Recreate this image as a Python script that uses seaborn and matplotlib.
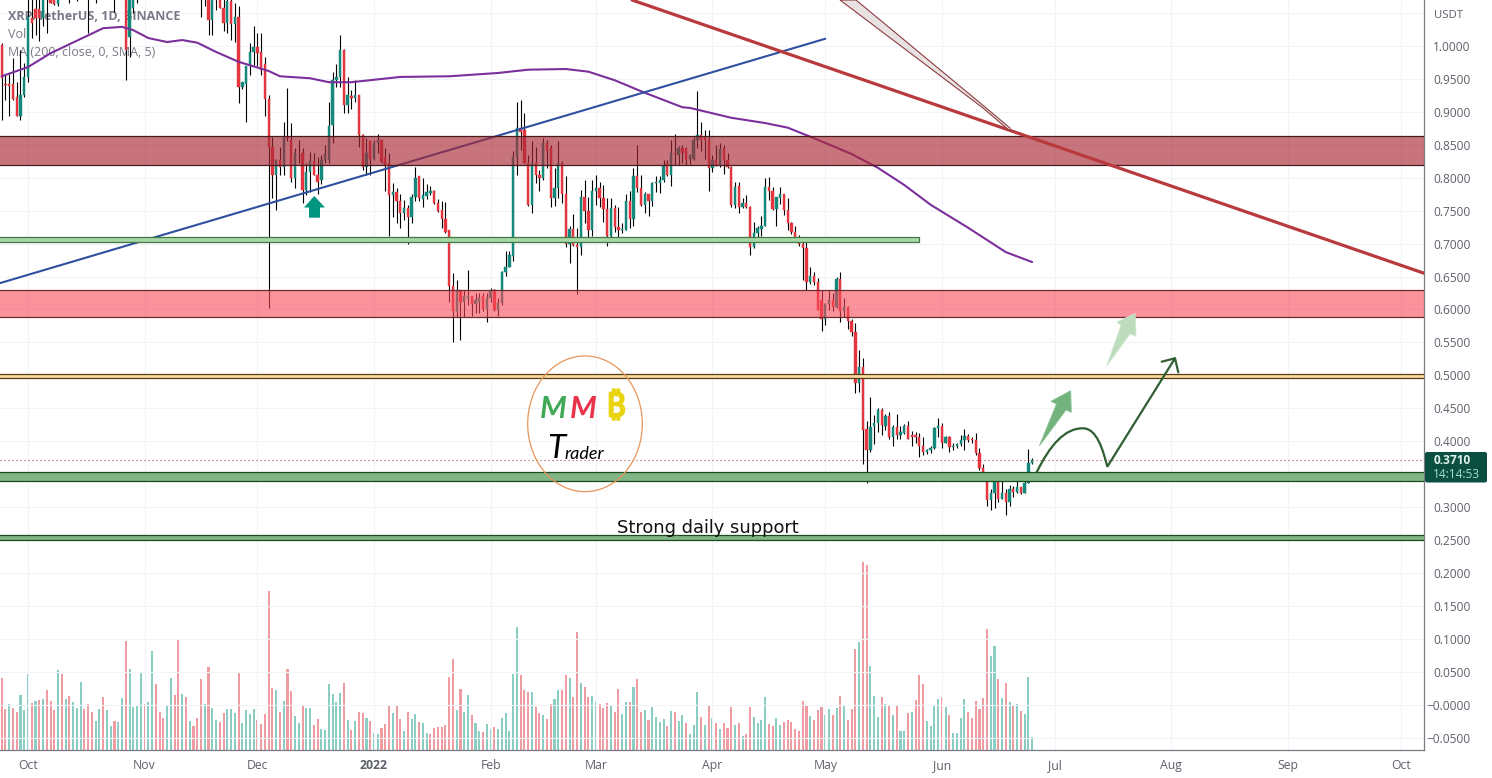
import matplotlib
matplotlib.use("Agg")
import numpy as np
import pandas as pd
import seaborn as sns
import matplotlib.pyplot as plt
import matplotlib.dates as mdates
import matplotlib.patheffects as pe
from matplotlib.patches import Polygon, Rectangle, Ellipse, PathPatch, FancyBboxPatch
from matplotlib.path import Path
from matplotlib.transforms import Affine2D

START = "2021-09-24"
open_ = [
1.001,.943,.943,.943,.923,.893,.926,.953,1.042,1.056,
1.056,1.042,1.11,1.10,1.09,1.063,1.09,1.12,1.10,1.13,
1.15,1.12,1.17,1.15,1.12,1.08,1.12,1.10,1.14,1.12,
1.12,1.10,1.13,1.11,1.014,1.057,1.12,1.10,1.14,1.12,
1.16,1.22,1.19,1.17,1.15,1.18,1.22,1.20,1.14,1.17,
1.15,1.17,1.15,1.13,1.10,1.10,1.04,1.12,1.10,1.058,
1.035,1.068,1.033,1.044,.938,.943,.969,.991,.998,.991,
.973,.920,.847,.804,.827,.817,.862,.857,.799,.838,
.837,.781,.809,.826,.804,.797,.827,.827,.880,.948,
.953,.994,.910,.924,.921,.926,.865,.817,.855,.829,
.852,.857,.832,.822,.774,.779,.764,.746,.754,.740,
.770,.802,.767,.772,.777,.780,.761,.751,.738,.720,
.636,.597,.629,.612,.617,.620,.609,.612,.620,.600,
.618,.630,.599,.610,.657,.665,.681,.831,.875,.873,
.823,.759,.822,.804,.799,.852,.845,.769,.784,.823,
.776,.700,.722,.698,.695,.770,.750,.721,.780,.785,
.769,.752,.711,.754,.725,.720,.721,.765,.737,.803,
.785,.759,.775,.765,.792,.792,.796,.822,.804,.837,
.835,.845,.845,.828,.829,.857,.865,.862,.858,.814,
.827,.819,.845,.827,.816,.759,.787,.755,.762,.756,
.695,.716,.722,.727,.786,.780,.752,.769,.775,.751,
.732,.718,.706,.699,.693,.642,.651,.642,.614,.585,
.608,.614,.604,.646,.598,.604,.583,.566,.488,.513,
.418,.386,.423,.427,.448,.423,.438,.406,.421,.409,
.413,.423,.409,.409,.407,.392,.383,.386,.389,.420,
.423,.398,.406,.391,.393,.396,.402,.408,.404,.402,
.382,.360,.344,.311,.322,.342,.313,.321,.308,.327,
.323,.330,.322,.337,.367]
high = [
1.004,.956,.957,.981,.946,.994,.974,1.10,1.10,1.11,
1.11,1.12,1.14,1.13,1.12,1.12,1.13,1.15,1.15,1.17,
1.19,1.20,1.20,1.18,1.14,1.14,1.16,1.16,1.17,1.15,
1.16,1.15,1.17,1.17,1.11,1.13,1.15,1.16,1.18,1.19,
1.24,1.25,1.22,1.20,1.20,1.24,1.25,1.24,1.19,1.20,
1.19,1.19,1.18,1.16,1.14,1.13,1.12,1.16,1.14,1.08,
1.08,1.09,1.065,1.06,.946,.969,1.004,1.030,1.019,1.019,
.984,.926,.862,.829,.847,.885,.936,.883,.845,.857,
.845,.822,.839,.837,.832,.834,.850,.915,.961,.973,
1.017,.996,.953,.933,.948,.926,.866,.860,.857,.857,
.867,.858,.845,.837,.792,.784,.776,.766,.759,.776,
.816,.803,.799,.790,.787,.781,.767,.764,.763,.721,
.655,.645,.630,.630,.660,.620,.625,.625,.625,.625,
.632,.631,.617,.659,.688,.689,.840,.915,.918,.898,
.835,.855,.847,.812,.861,.857,.850,.814,.856,.826,
.802,.726,.745,.723,.781,.797,.771,.797,.804,.794,
.789,.769,.769,.759,.756,.731,.776,.780,.814,.850,
.804,.779,.776,.794,.802,.802,.827,.827,.857,.867,
.848,.850,.847,.836,.862,.931,.885,.873,.873,.835,
.850,.852,.850,.837,.818,.794,.794,.769,.774,.757,
.733,.726,.742,.799,.801,.786,.771,.786,.776,.769,
.733,.727,.713,.703,.706,.664,.657,.647,.630,.610,
.630,.625,.650,.657,.617,.605,.585,.580,.538,.526,
.430,.467,.440,.450,.450,.442,.445,.425,.441,.423,
.426,.430,.415,.414,.412,.406,.388,.392,.421,.435,
.427,.408,.408,.397,.398,.409,.418,.411,.407,.413,
.389,.366,.351,.328,.349,.349,.340,.328,.334,.332,
.339,.331,.341,.388,.374]
low = [
.888,.918,.893,.918,.893,.888,.923,.946,1.012,1.017,
1.007,1.03,1.019,1.066,1.062,1.06,1.08,1.09,1.066,1.10,
1.068,1.09,1.11,1.019,1.072,1.065,1.08,1.08,1.10,1.09,
1.052,1.08,1.09,.948,.984,1.05,1.065,1.09,1.11,1.10,
1.14,1.17,1.16,1.14,1.13,1.16,1.18,1.12,1.12,1.14,
1.14,1.14,1.12,1.044,1.06,1.017,1.017,1.055,1.057,1.022,
1.019,1.009,1.006,.913,.934,.884,.956,.971,.969,.956,
.893,.602,.769,.751,.804,.804,.855,.794,.784,.822,
.761,.774,.779,.804,.776,.791,.822,.822,.852,.938,
.938,.898,.898,.905,.915,.847,.812,.804,.804,.827,
.837,.823,.780,.712,.741,.731,.723,.736,.700,.732,
.764,.764,.755,.767,.774,.760,.748,.723,.716,.612,
.550,.589,.554,.588,.607,.590,.594,.594,.597,.581,
.612,.597,.590,.607,.651,.664,.673,.804,.842,.822,
.757,.747,.792,.780,.797,.814,.755,.757,.769,.761,
.695,.670,.696,.623,.683,.731,.708,.711,.759,.756,
.733,.696,.706,.718,.703,.716,.720,.723,.726,.779,
.757,.746,.742,.757,.779,.777,.793,.802,.787,.819,
.819,.822,.819,.821,.827,.845,.840,.829,.780,.808,
.818,.816,.805,.814,.756,.754,.747,.754,.754,.683,
.693,.703,.711,.726,.766,.751,.727,.760,.743,.721,
.715,.703,.696,.645,.630,.639,.637,.599,.568,.576,
.599,.597,.602,.581,.589,.571,.559,.473,.474,.366,
.337,.383,.396,.414,.409,.417,.404,.392,.403,.404,
.411,.403,.392,.398,.376,.379,.381,.382,.388,.407,
.389,.397,.384,.386,.389,.393,.386,.399,.397,.379,
.357,.340,.302,.295,.298,.308,.312,.288,.302,.316,
.321,.320,.321,.336,.365]
close = [
.951,.941,.939,.920,.893,.926,.953,1.044,1.035,1.042,
1.042,1.09,1.08,1.066,1.064,1.09,1.12,1.10,1.13,1.15,
1.12,1.17,1.15,1.09,1.10,1.12,1.10,1.14,1.12,1.10,
1.10,1.13,1.11,.994,1.09,1.10,1.09,1.14,1.12,1.16,
1.22,1.19,1.17,1.15,1.18,1.22,1.20,1.14,1.17,1.15,
1.17,1.15,1.13,1.09,1.08,1.040,1.09,1.07,1.058,1.035,
1.068,1.033,1.044,.938,.946,.969,.991,.998,.990,.964,
.920,.847,.804,.827,.817,.862,.860,.799,.838,.837,
.781,.809,.826,.804,.794,.827,.836,.878,.948,.953,
.994,.910,.926,.921,.926,.865,.817,.838,.829,.852,
.858,.824,.818,.774,.779,.764,.746,.754,.740,.770,
.799,.769,.774,.779,.780,.761,.750,.737,.718,.636,
.597,.630,.612,.620,.620,.609,.614,.617,.600,.618,
.628,.599,.610,.657,.665,.683,.831,.875,.870,.823,
.759,.823,.804,.799,.852,.840,.769,.784,.823,.776,
.700,.722,.698,.695,.771,.750,.721,.780,.784,.769,
.752,.711,.754,.725,.721,.722,.765,.737,.803,.785,
.759,.775,.765,.792,.794,.797,.818,.804,.837,.836,
.845,.837,.827,.835,.858,.865,.857,.857,.814,.827,
.819,.843,.827,.816,.759,.786,.755,.762,.755,.695,
.716,.723,.727,.786,.780,.752,.770,.775,.751,.732,
.718,.706,.700,.693,.642,.651,.642,.599,.585,.608,
.614,.604,.646,.598,.603,.583,.566,.488,.513,.417,
.386,.422,.427,.448,.424,.438,.406,.422,.409,.414,
.423,.404,.406,.406,.392,.383,.386,.389,.420,.423,
.398,.406,.391,.393,.396,.402,.408,.402,.402,.382,
.360,.342,.311,.322,.342,.313,.321,.308,.327,.323,
.330,.322,.337,.367,.371]
volume = [
72,41,46,42,38,55,40,76,47,49, 50,51,60,49,40,80,76,51,54,48,
42,68,41,46,38,29,41,53,40,24, 29,28,52,109,81,43,44,78,46,48,
99,66,38,32,45,72,55,110,56,53, 29,24,32,71,46,83,42,30,28,37,
41,41,37,78,27,40,36,41,30,26, 36,159,62,60,38,49,81,59,34,27,
45,42,42,25,31,21,20,66,56,48, 57,67,30,20,29,38,37,32,29,17,
16,22,26,44,37,45,31,19,38,31, 36,28,27,17,16,22,23,23,25,73,
91,40,61,38,55,35,27,19,18,26, 21,23,21,32,37,19,76,123,
75,60,58,58,43,37,35,31,46,51, 60,60,75,72,53,118,67,63,53,54,
48,46,42,47,44,38,61,36,48,48, 63,71,38,40,30,43,33,28,31,24,
39,38,29,35,27,16,25,58,33,25, 45,32,27,21,27,22,43,25,27,14,
16,43,33,27,30,53,26,24,32,25, 28,30,28,21,19,49,44,34,30,40,
43,35,41,35,42,54,44,30,41,101, 108,188,185,84,54,33,53,46,45,35,
44,19,19,37,38,50,75,66,29,24, 45,51,53,43,35,17,17,32,51,38,
32,49,41,52,121,94,104,71,52,67, 48,44,46,39,36,73,13]
volume_dir = ("RRGRRGGGRG" "RGRRRGRGRG" "GGRRRGGRGG" "RGGRGGGGRG" "GRRRGGRRGR"
              "GRRRGRGGRR" "GGGRGGGGRR" "RRRGRGRRGG" "RGGRRGGGGG" "GRGRGRRGRG"
              "GRRRGRRGRG" "GRGGRRRRRR" "RGRGGRGGRG" "GRGGGGGG"
              "RRRGRRGRRG" "GRRGRRGRRG" "GRRRGRRGGR" "GRRGRGGGGR" "GRGGRGGGRG"
              "RGRGRRRGRG" "RRGGGGRRGG" "RRRRRRRGRR" "RGGRGRGRRR" "GRRGGGRGRG"
              "RGGRGRRRGG" "GGRGRGGGGR" "RRRRRGGRGR" "GRGRGGG")

ma_days = [-7,0,6,13,20,25,28,32,37,41,45,50,56,64,67,75,80,86,99,112,125,133,143,149,
           156,164,174,176,187,196,202,209,219,226,233,240,250,260,267]
ma_vals = [.954,.968,.989,1.008,1.027,1.029,1.024,1.012,1.006,1.009,1.005,.991,.976,.962,.954,
           .951,.945,.945,.953,.954,.959,.964,.965,.961,.948,.929,.907,.906,.891,.883,.876,
           .860,.836,.815,.789,.759,.724,.687,.672]
blue_days = [-7.44, 212]
blue_vals = [.640, 1.011]
red_days = [160.6, 371.2]
red_vals = [1.0698, .655]

zone_low = [.8193, .5886, .7024, .4964, .3392, .2496]
zone_high = [.8634, .6296, .7100, .5013, .3528, .2572]
zone_end = [380, 380, 236.9, 380, 380, 380]
zone_face = [(170/255,41/255,54/255,.65), (248/255,73/255,88/255,.6), (.66,.84,.65,1),
             (.97,.86,.63,1), (.50,.71,.52,1), (.50,.71,.52,1)]
zone_edge = ["#4a1c20", "#6b2b30", "#3f7a3f", "#5a3a10", "#1c4a1c", "#1c4a1c"]

price_ticks = [1.05,1.0,.95,.9,.85,.8,.75,.7,.65,.6,.55,.5,.45,.4,.35,.3,.25,.2,.15,.1,.05,0,-.05]
price_labels = ["", "1.0000","0.9500","0.9000","0.8500","0.8000","0.7500","0.7000","0.6500","0.6000",
                "0.5500","0.5000","0.4500","0.4000","","0.3000","0.2500","0.2000","0.1500","0.1000",
                "0.0500","\u22120.0000","\u22120.0500"]
month_ticks = ["2021-10-01","2021-11-01","2021-12-01","2022-01-01","2022-02-01","2022-03-01",
               "2022-04-01","2022-05-01","2022-06-01","2022-07-01","2022-08-01","2022-09-01","2022-10-01"]
month_labels = ["Oct","Nov","Dec","2022","Feb","Mar","Apr","May","Jun","Jul","Aug","Sep","Oct"]
last_price = 0.3710

W, H = 1492, 778
sns.set_theme(style="white")
plt.rcParams["font.family"] = ["Open Sans", "DejaVu Sans"]
fig = plt.figure(figsize=(W/100, H/100), dpi=100, facecolor="white")
ax = fig.add_axes([0, 28/H, 1424/W, 750/H])
ax2 = ax.twinx()            # volume pane scale
ax.set_zorder(2); ax2.set_zorder(1); ax.patch.set_alpha(0)
ax2.patch.set_facecolor("white")

n = len(close)
assert len(open_) == n and len(high) == n and len(low) == n and len(volume) == n and len(volume_dir) == n, \
    (len(open_), len(high), len(low), len(close), len(volume), len(volume_dir))
dates = pd.date_range(START, periods=n)
origin = pd.Timestamp("2021-10-01")
def day(d):
    return origin + pd.to_timedelta(np.asarray(d, dtype=float), unit="D")

# volume
vcol = ["#ee9ca1" if c == "R" else "#8bcdc3" for c in volume_dir]
ax2.bar(dates, volume, width=0.55, color=vcol, linewidth=0)
ax2.set_ylim(0, 750)
ax2.set_yticks([])
ax2.grid(False)
for s in ax2.spines.values():
    s.set_visible(False)

# grid
ax.set_axisbelow(True)
ax.grid(True, color="#f1f3f9", lw=0.8)

# candles
o, h, l, c = map(np.array, (open_, high, low, close))
up = c >= o
ax.vlines(dates, l, h, color="black", lw=0.8, zorder=3)
ax.bar(dates, np.abs(c-o), bottom=np.minimum(o, c), width=0.62,
       color=np.where(up, "#12897b", "#e5353f"), edgecolor=np.where(up, "#12897b", "#e5353f"),
       lw=0.3, zorder=4)

# moving average and trend lines
sns.lineplot(x=day(ma_days), y=ma_vals, ax=ax, color="#7b2f9b", lw=1.5, estimator=None, zorder=5)
sns.lineplot(x=day(blue_days), y=blue_vals, ax=ax, color="#2f4f9f", lw=1.5, estimator=None, zorder=5)
ax.axhline(last_price, color="#a84a4a", lw=0.8, ls=(0, (1, 2.6)), zorder=5)

# zones
for lo, hi, end, fc, ec in zip(zone_low, zone_high, zone_end, zone_face, zone_edge):
    x0 = mdates.date2num(day(-12)); x1 = mdates.date2num(day(end))
    ax.add_patch(Rectangle((x0, lo), x1-x0, hi-lo, facecolor=fc, edgecolor=ec, lw=0.9, zorder=6))
sns.lineplot(x=day(red_days), y=red_vals, ax=ax, color="#b93a3c", lw=2.3, estimator=None, zorder=7)

# axes scales
ax.set_xlim(day(-7.445), day(371.2))
ax.set_ylim(-0.0688, 1.0698)
ax.set_xlabel(""); ax.set_ylabel("")
ax.yaxis.tick_right()
ax.set_yticks(price_ticks)
ax.set_yticklabels(price_labels, fontsize=8.6, color="#5d606b", ha="right")
ax.tick_params(axis="y", length=0, pad=33.5)
ax.set_xticks(pd.to_datetime(month_ticks))
ax.set_xticklabels(month_labels, fontsize=8.8, color="#5d606b")
ax.tick_params(axis="x", length=0, pad=6.8)
for t in ax.get_xticklabels():
    if t.get_text() == "2022":
        t.set_fontweight("bold")
for name, s in ax.spines.items():
    s.set_visible(name in ("right", "bottom"))
    s.set_color("#787b86"); s.set_linewidth(0.9)

# pixel-space drawings
P = Affine2D().scale(1, -1).translate(0, H)
def poly(pts, **kw):
    ax.add_patch(Polygon(pts, closed=True, transform=P, **kw))

poly([(314.3,196),(325,207.5),(320,207.5),(320,217.7),(309,217.7),(309,207.5),(304,207.5)],
     facecolor="#00957f", edgecolor="none", zorder=8)
poly([(840,0),(856,0),(985,107),(1010,128),(1010,131),(983,108)],
     facecolor="#e8e2e2", edgecolor="#8f3b3f", lw=0.8, zorder=8)
poly([(1039.3,446),(1056.5,404),(1051,401.3),(1070.7,390.7),(1071.3,412.3),(1066,410)],
     facecolor="#72b27c", edgecolor="#8cc295", lw=0.6, zorder=8)
poly([(1106.7,366),(1121,325.5),(1117,322),(1135,313.5),(1136,336),(1130,334)],
     facecolor="#bcdcbc", edgecolor="#cfe6cf", lw=0.6, zorder=8)
verts = [(1036.7,472.3),(1050,445),(1065,428),(1083,428.3),(1097,428.5),(1103,450),(1107.3,466.7),
         (1175,358.3),(1161.7,361.7),(1175,358.3),(1178.3,372.3)]
codes = [Path.MOVETO]+[Path.CURVE4]*6+[Path.LINETO,Path.LINETO,Path.MOVETO,Path.LINETO]
ax.add_patch(PathPatch(Path(verts, codes), transform=P, facecolor="none", edgecolor="#2f5f33",
                       lw=1.6, zorder=9, capstyle="round"))

ax.add_patch(Ellipse((585,423.8), 114.6, 135.7, transform=P, facecolor="none",
                     edgecolor="#e8955a", lw=0.9, zorder=9))

def txt(x, y, s, **kw):
    kw.setdefault("zorder", 10)
    kw.setdefault("va", "center")
    kw.setdefault("clip_on", False)
    return ax.text(x, y, s, transform=P, **kw)

txt(553, 408.5, "M", color="#3fa955", fontsize=22, fontweight="bold", style="italic", family="Lato", ha="center")
txt(583, 408.5, "M", color="#e8334a", fontsize=22, fontweight="bold", style="italic", family="Lato", ha="center")
b = txt(616, 408, "\u20bf", color="#e9d40f", fontsize=24, fontweight="bold", family=["Noto Sans","DejaVu Sans"], ha="center")
b.set_path_effects([pe.withStroke(linewidth=1.4, foreground="#e9d40f")])
txt(556, 448.5, "T", color="black", fontsize=24, style="italic", family="Lato", ha="center")
txt(564, 454, "rader", color="black", fontsize=13, style="italic", family="Lato", ha="left")
txt(708, 528, "Strong daily support", color="#111111", fontsize=12.85, family="DejaVu Sans", ha="center")

# legend text sits under the candles
txt(8, 17, "XRP/TetherUS, 1D, BINANCE", color="#787b86", fontsize=9, fontweight="bold", ha="left", zorder=2)
txt(8, 34, "Vol", color="#787b86", fontsize=9, ha="left", zorder=2)
txt(8, 52, "MA (200, close, 0, SMA, 5)", color="#787b86", fontsize=9, ha="left", zorder=2)

# price label box and unit
ax.add_patch(FancyBboxPatch((1425,452), 62, 30.5, boxstyle="round,pad=0,rounding_size=2", transform=P,
                            facecolor="#0b4f41", edgecolor="none", clip_on=False, zorder=10))
txt(1452, 460.5, f"{last_price:.4f}", color="#dff3ec", fontsize=8.6, fontweight="bold", ha="center", zorder=11)
txt(1456, 475, "14:14:53", color="#a8dccf", fontsize=8.6, ha="center", zorder=11)
txt(1434, 15, "USDT", color="#5d606b", fontsize=8.2, ha="left")

fig.savefig("out.png", dpi=100, facecolor="white")
